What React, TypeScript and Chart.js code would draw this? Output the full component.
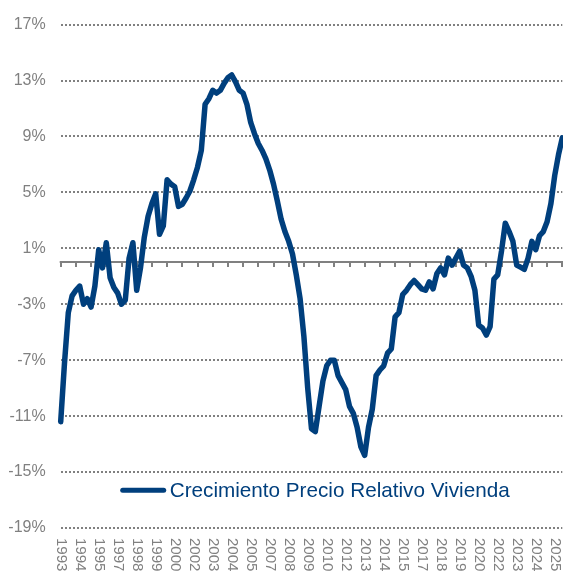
import React, { useEffect, useRef } from 'react';
import { Chart, registerables } from 'chart.js';

Chart.register(...registerables);

// Quarterly series starting 1993 Q2
const START_YEAR = 1993;
const START_QUARTER = 2;

const growth: number[] = [
  -11.4, -7.2, -3.6, -2.4, -2.0, -1.7, -3.0, -2.6, -3.2, -1.7,
  0.9, -0.4, 1.4, -1.1, -1.8, -2.2, -3.0, -2.7, 0.3, 1.4,
  -2.0, -0.4, 1.8, 3.3, 4.2, 4.9, 2.0, 2.6, 5.9, 5.6,
  5.4, 4.0, 4.15, 4.6, 5.1, 5.9, 6.8, 8.0, 11.3, 11.7,
  12.3, 12.1, 12.3, 12.8, 13.2, 13.4, 12.9, 12.3, 12.1, 11.3,
  10.0, 9.2, 8.5, 8.0, 7.4, 6.6, 5.6, 4.4, 3.1, 2.2,
  1.5, 0.6, -0.9, -2.6, -5.3, -9.0, -11.9, -12.1, -10.3, -8.5,
  -7.4, -7.0, -7.0, -8.1, -8.6, -9.1, -10.3, -10.8, -11.8, -13.2,
  -13.8, -11.8, -10.5, -8.1, -7.7, -7.4, -6.5, -6.2, -3.9, -3.6,
  -2.3, -2.0, -1.6, -1.3, -1.6, -1.9, -2.0, -1.4, -1.9, -0.8,
  -0.4, -0.9, 0.3, -0.2, 0.3, 0.8, -0.2, -0.4, -1.0, -2.0,
  -4.5, -4.7, -5.2, -4.6, -1.2, -0.9, 0.8, 2.8, 2.2, 1.5,
  -0.2, -0.35, -0.5, 0.3, 1.5, 0.9, 1.9, 2.2, 2.9, 4.2,
  6.2, 7.7, 8.9,
];

const categories: string[] = growth.map((_, i) => {
  const q = START_QUARTER - 1 + i;
  return `${START_YEAR + Math.floor(q / 4)} T${(q % 4) + 1}`;
});

const xTickLabels: string[] = [
  '1993', '1994', '1995', '1997', '1998', '1999', '2000', '2002', '2003',
  '2004', '2005', '2007', '2008', '2009', '2010', '2012', '2013', '2014',
  '2015', '2017', '2018', '2019', '2020', '2022', '2023', '2024', '2025',
];
const X_LABEL_EVERY = 5;
const ZERO_TICK_EVERY = 4;

const Y_MIN = -19;
const Y_MAX = 17;
const Y_STEP = 4;

const SERIES_NAME = 'Crecimiento Precio Relativo Vivienda';
const LINE_COLOR = '#003f7d';
const GRAY = '#808080';
const FONT = "'Liberation Sans', Arial, sans-serif";

const overlayPlugin = {
  id: 'overlay',
  beforeDatasetsDraw(chart: any) {
    const { ctx, chartArea, scales } = chart;
    const xs = scales.x;
    const ys = scales.y;
    const y0 = Math.round(ys.getPixelForValue(0));
    ctx.save();
    ctx.strokeStyle = GRAY;
    ctx.lineWidth = 2;
    ctx.beginPath();
    ctx.moveTo(chartArea.left - 1, y0);
    ctx.lineTo(chart.width, y0);
    ctx.stroke();
    ctx.beginPath();
    for (let i = 0; i < categories.length; i += ZERO_TICK_EVERY) {
      const x = Math.round(xs.getPixelForValue(i));
      ctx.moveTo(x, y0);
      ctx.lineTo(x, y0 + 5);
    }
    ctx.stroke();
    ctx.restore();
  },
  afterDraw(chart: any) {
    const { ctx, chartArea, scales } = chart;
    const xs = scales.x;
    const ys = scales.y;
    ctx.save();
    // rotated x labels (reading top to bottom)
    ctx.fillStyle = GRAY;
    ctx.font = `15px ${FONT}`;
    ctx.textAlign = 'left';
    ctx.textBaseline = 'middle';
    const top = ys.getPixelForValue(Y_MIN) + 10;
    xTickLabels.forEach((lab, k) => {
      const x = xs.getPixelForValue(k * X_LABEL_EVERY);
      ctx.save();
      ctx.translate(x, top);
      ctx.rotate(Math.PI / 2);
      ctx.fillText(lab, 0, 0);
      ctx.restore();
    });
    // legend inside the plot
    const ly = ys.getPixelForValue(-16.3);
    const lx = chartArea.left + 62;
    ctx.strokeStyle = LINE_COLOR;
    ctx.lineWidth = 5;
    ctx.lineCap = 'round';
    ctx.beginPath();
    ctx.moveTo(lx, ly);
    ctx.lineTo(lx + 41, ly);
    ctx.stroke();
    ctx.fillStyle = LINE_COLOR;
    ctx.font = `20.7px ${FONT}`;
    ctx.textBaseline = 'middle';
    ctx.fillText(SERIES_NAME, lx + 47, ly + 1);
    ctx.restore();
  },
};

export default function App() {
  const ref = useRef<HTMLCanvasElement | null>(null);

  useEffect(() => {
    if (!ref.current) return;
    const chart = new Chart(ref.current, {
      type: 'line',
      data: {
        labels: categories,
        datasets: [
          {
            label: SERIES_NAME,
            data: growth,
            borderColor: LINE_COLOR,
            backgroundColor: LINE_COLOR,
            borderWidth: 5.5,
            pointRadius: 0,
            tension: 0,
            borderJoinStyle: 'round',
            borderCapStyle: 'round',
            clip: false as any,
          },
        ],
      },
      options: {
        responsive: false,
        animation: false,
        layout: { padding: { left: 0, right: 0.7, top: 18.6, bottom: 0 } },
        plugins: {
          legend: { display: false },
          tooltip: { enabled: false },
        },
        scales: {
          x: {
            type: 'category',
            offset: false,
            ticks: { display: false },
            grid: { display: false },
            border: { display: false },
            afterFit: (s: any) => {
              s.height = 47;
            },
          },
          y: {
            min: Y_MIN,
            max: Y_MAX,
            ticks: {
              stepSize: Y_STEP,
              color: GRAY,
              font: { family: FONT, size: 16 },
              padding: 15,
              callback: (v: any) => `${v}%`,
            },
            grid: {
              color: GRAY,
              lineWidth: 2,
              drawTicks: false,
            },
            border: { display: false, dash: [2, 2] },
            afterFit: (s: any) => {
              s.width = 60.7;
            },
          },
        },
      },
      plugins: [overlayPlugin],
    });
    return () => chart.destroy();
  }, []);

  return (
    <div style={{ position: 'absolute', left: 0, top: 0, width: 563, height: 575, background: '#fff' }}>
      <canvas ref={ref} width={563} height={575} style={{ display: 'block' }} />
    </div>
  );
}
